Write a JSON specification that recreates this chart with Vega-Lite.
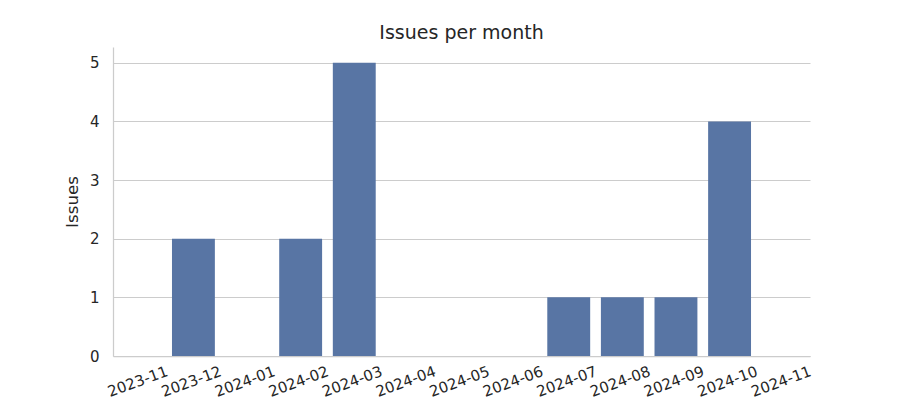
{
  "$schema": "https://vega.github.io/schema/vega-lite/v6.json",
  "autosize": {"type": "none"},
  "width": 697,
  "height": 309,
  "padding": {"left": 113, "top": 47, "right": 90, "bottom": 44},
  "background": "white",
  "title": {"text": "Issues per month", "font": "DejaVu Sans", "fontSize": 19, "fontWeight": "normal", "color": "#262626", "offset": 4},
  "data": {"values": [
    {"month": "2023-11", "issues": 0},
    {"month": "2023-12", "issues": 2},
    {"month": "2024-01", "issues": 0},
    {"month": "2024-02", "issues": 2},
    {"month": "2024-03", "issues": 5},
    {"month": "2024-04", "issues": 0},
    {"month": "2024-05", "issues": 0},
    {"month": "2024-06", "issues": 0},
    {"month": "2024-07", "issues": 1},
    {"month": "2024-08", "issues": 1},
    {"month": "2024-09", "issues": 1},
    {"month": "2024-10", "issues": 4},
    {"month": "2024-11", "issues": 0}
  ]},
  "mark": {"type": "bar", "color": "#5875a4"},
  "encoding": {
    "x": {"field": "month", "type": "ordinal", "sort": null,
      "scale": {"paddingInner": 0.2, "paddingOuter": 0.1},
      "axis": {"title": null, "labelAngle": -20, "labelAlign": "center", "labelBaseline": "middle", "labelPadding": 25, "labelOffset": -2, "labelFont": "DejaVu Sans", "labelFontSize": 15, "labelColor": "#262626", "ticks": false, "domainColor": "#cccccc", "domainWidth": 1.25, "grid": false}},
    "y": {"field": "issues", "type": "quantitative",
      "scale": {"domain": [0, 5.27], "nice": false},
      "axis": {"title": "Issues", "titleFont": "DejaVu Sans", "titleFontSize": 16.7, "titleFontWeight": "normal", "titleColor": "#262626", "titlePadding": 8, "values": [0,1,2,3,4,5], "format": "d", "labelFont": "DejaVu Sans", "labelFontSize": 15, "labelColor": "#262626", "labelPadding": 14, "ticks": false, "domainColor": "#cccccc", "domainWidth": 1.25, "gridColor": "#cccccc", "gridWidth": 1}}
  },
  "config": {"view": {"stroke": null}}
}
